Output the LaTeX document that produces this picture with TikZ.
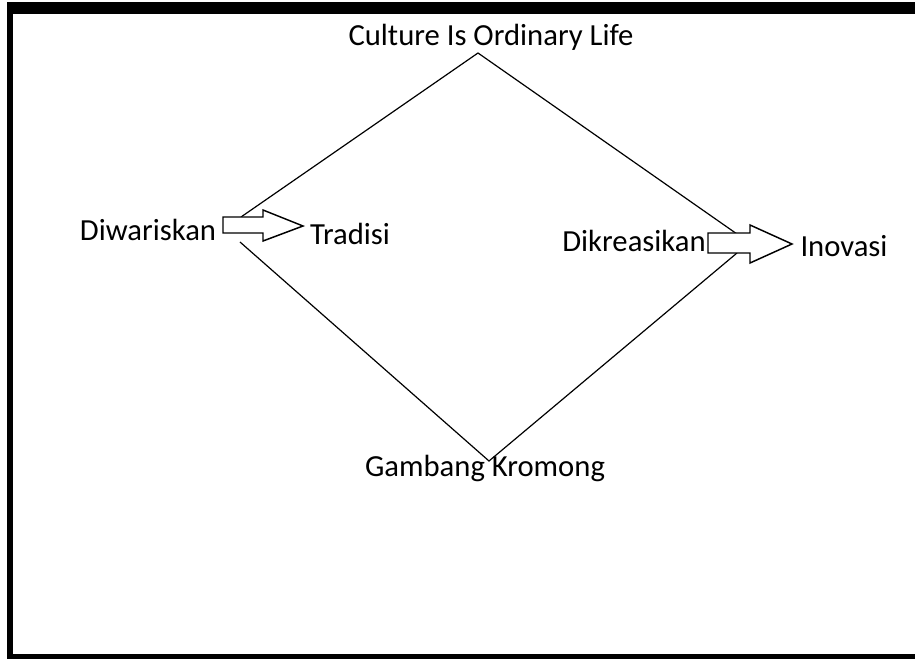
\documentclass[tikz,border=0pt]{standalone}
\usepackage{fontspec}
\setmainfont{Carlito}
\begin{document}
\begin{tikzpicture}[x=0.75pt,y=-0.75pt,
  lbl/.style={font=\fontsize{23}{27}\selectfont,inner sep=0pt,anchor=center},
  edge/.style={line width=0.9pt,black},
  blockarrow/.style={line width=1.1pt,black,fill=white,line join=miter}]
\useasboundingbox (0,0) rectangle (915,659);
\fill[white] (0,0) rectangle (915,659);
% frame
\fill[black] (7,2) rectangle (915,14);
\fill[black] (7,2) rectangle (13,659);
\fill[black] (7,654) rectangle (915,659);
% labels
\node[lbl] (culture) at (491,37) {Culture Is Ordinary Life};
\node[lbl] (diwar) at (148,230) {Diwariskan};
\node[lbl] (tradisi) at (350,234) {Tradisi};
\node[lbl] (dikre) at (634,241) {Dikreasikan};
\node[lbl] (inovasi) at (844,246) {Inovasi};
\node[lbl] (gambang) at (485,468) {Gambang Kromong};
% diamond vertices
\coordinate (top) at (478,53);
\coordinate (bot) at (489,461);
\coordinate (la) at (241,217);
\coordinate (lb) at (240,242);
\coordinate (ra) at (737,234);
\coordinate (rb) at (737,253);
\draw[edge] (la) -- (top) -- (ra);
\draw[edge] (lb) -- (bot) -- (rb);
% block arrows
\draw[blockarrow] (223,217) -- (263,217) -- (263,210) -- (303,226) -- (263,241) -- (263,233) -- (223,233) -- cycle;
\draw[blockarrow] (708,233) -- (750,233) -- (750,225) -- (792,244) -- (750,263) -- (750,253) -- (708,253) -- cycle;
\end{tikzpicture}
\end{document}
